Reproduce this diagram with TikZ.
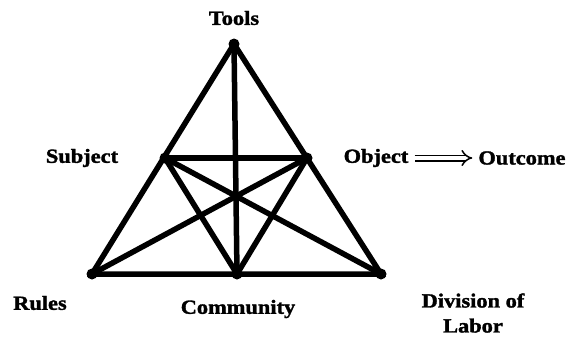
\documentclass[tikz,border=0pt]{standalone}
\usepackage{fontspec}
\setmainfont{Liberation Serif}[FakeStretch=1.12, BoldFeatures={FakeBold=1.6}]
\usetikzlibrary{positioning, arrows.meta}

\tikzset{
  corner/.style={circle, fill=black, inner sep=0pt, minimum size=11pt},
  nametxt/.style={font=\fontsize{20}{22}\selectfont\bfseries, inner sep=1pt, align=center},
  bar/.style={line width=5.5pt, line cap=round}
}

\begin{document}
\begin{tikzpicture}[x=1pt, y=-1pt]
  \useasboundingbox (0,0) rectangle (571,340);
  % corners of the triangle
  \node[corner] (tools) at (234,44) {};
  \node[corner] (subject) at (165,158) {};
  \node[corner] (object) at (307,158) {};
  \node[corner] (rules) at (92,274) {};
  \node[corner] (community) at (237,274) {};
  \node[corner] (division) at (381,274) {};
  % outer triangle
  \draw[bar] (tools.center) -- (rules.center) -- (division.center) -- cycle;
  % inner lines
  \draw[bar] (subject.center) -- (object.center);
  \draw[bar] (tools.center) -- (community.center);
  \draw[bar] (subject.center) -- (community.center);
  \draw[bar] (object.center) -- (community.center);
  \draw[bar] (subject.center) -- (division.center);
  \draw[bar] (object.center) -- (rules.center);
  % labels
  \node[nametxt] (toolsTxt) at (234,18) {Tools};
  \node[nametxt] (subjectTxt) at (82,158) {Subject};
  \node[nametxt] (objectTxt) at (376,158) {Object};
  \node[nametxt] (outcomeTxt) at (522,158) {Outcome};
  \node[nametxt] (rulesTxt) at (40,303) {Rules};
  \node[nametxt] (communityTxt) at (238,309) {Community};
  \node[nametxt] (divisionTxt) at (473,313) {Division of\\[3pt]Labor};
  % outcome arrow
  \draw[double, double distance=4pt, line width=1.5pt, -{Implies}, shorten <=5pt, shorten >=5pt] (objectTxt.east) -- (outcomeTxt.west);
\end{tikzpicture}
\end{document}
